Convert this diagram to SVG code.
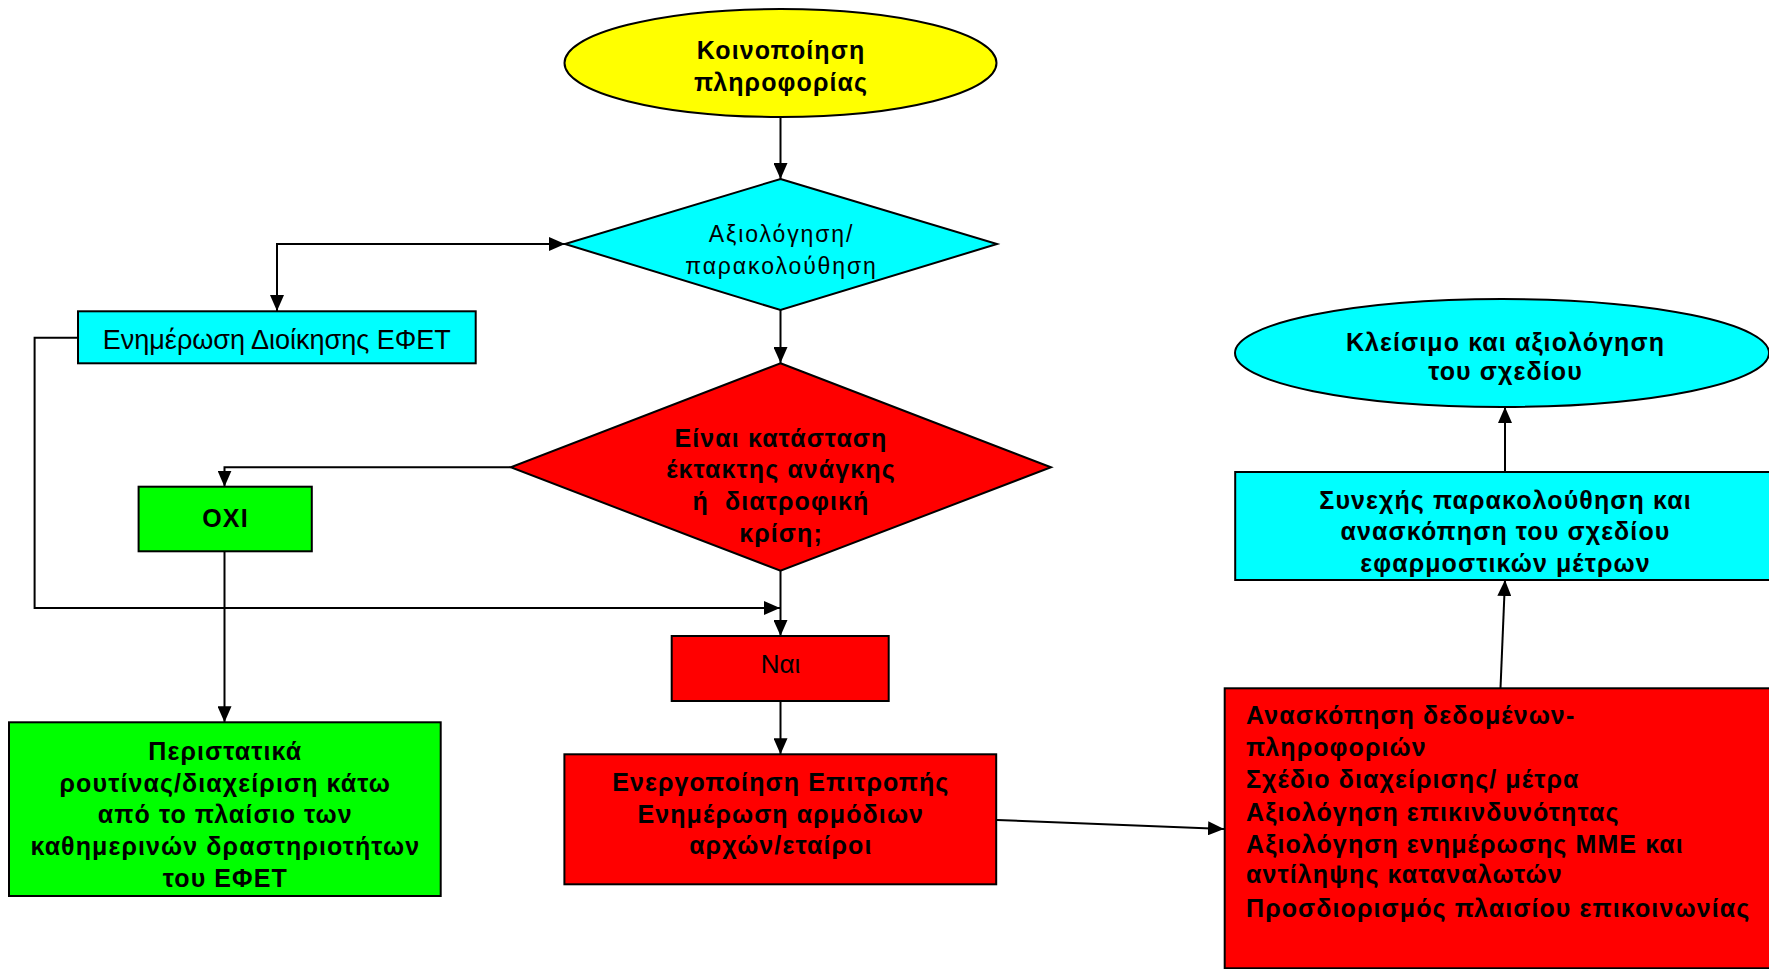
<svg xmlns="http://www.w3.org/2000/svg" width="1769" height="969" viewBox="0 0 1769 969">
<defs>
<marker id="ah" markerUnits="userSpaceOnUse" markerWidth="16" markerHeight="14" refX="16" refY="7" orient="auto-start-reverse" viewBox="0 0 16 14">
<path d="M0,0 L16,7 L0,14 z" fill="#000"/>
</marker>
<style>
.shape{stroke:#000;stroke-width:2}
.yellow{fill:#FFFF00}
.cyan{fill:#00FFFF}
.red{fill:#FF0000}
.green{fill:#00FF00}
.conn{fill:none;stroke:#000;stroke-width:2;marker-end:url(#ah)}
text{font-family:"Liberation Sans",Arial,sans-serif;fill:#000}
.b{font-weight:bold;font-size:25px;letter-spacing:1.1px}
.n{font-size:23px;letter-spacing:1.9px}
.c{text-anchor:middle}
</style>
</defs>
<rect width="1769" height="969" fill="#fff"/>
<g id="connectors">
<path class="conn" d="M780.5,117 V179"/>
<path class="conn" style="marker-start:url(#ah)" d="M565,244 H277 V311"/>
<path class="conn" d="M780.5,310 V363"/>
<path class="conn" d="M510.7,467.3 H224.5 V486.7"/>
<path class="conn" d="M224.5,551.3 V722.3"/>
<path class="conn" d="M78,337.7 H34.6 V608 H780"/>
<path class="conn" d="M780.5,570.7 V636"/>
<path class="conn" d="M780.5,701 V754.3"/>
<path class="conn" d="M997,820 L1224,829"/>
<path class="conn" d="M1500.5,688 L1505,580"/>
<path class="conn" d="M1505,472 V407"/>
</g>
<g id="node-koinopoiisi">
<ellipse class="shape yellow" cx="780.5" cy="63" rx="216" ry="54"/>
<text class="b c" x="781" y="59">Κοινοποίηση</text>
<text class="b c" x="781" y="91">πληροφορίας</text>
</g>
<g id="node-axiologisi">
<polygon class="shape cyan" points="780.5,179 997,244 780.5,310 565,244"/>
<text class="n c" x="781.5" y="242">Αξιολόγηση/</text>
<text class="n c" x="781.5" y="274">παρακολούθηση</text>
</g>
<g id="node-enimerosi-dioikisis">
<rect class="shape cyan" x="78" y="311.3" width="397.7" height="52"/>
<text class="c" style="font-size:27px" x="276.8" y="349">Ενημέρωση Διοίκησης ΕΦΕΤ</text>
</g>
<g id="node-ektakti">
<polygon class="shape red" points="780.5,363.3 1051,467.3 780.5,570.7 510.7,467.3"/>
<text class="b c" x="781" y="446.7">Είναι κατάσταση</text>
<text class="b c" x="781" y="478.3">έκτακτης ανάγκης</text>
<text class="b c" x="781" y="509.5" xml:space="preserve">ή  διατροφική</text>
<text class="b c" x="781" y="541.5">κρίση;</text>
</g>
<g id="node-oxi">
<rect class="shape green" x="138.6" y="486.7" width="173.2" height="64.6"/>
<text class="b c" x="225.5" y="527">ΟΧΙ</text>
</g>
<g id="node-nai">
<rect class="shape red" x="671.7" y="636" width="217" height="65"/>
<text class="c" style="font-size:26px" x="780.5" y="672.7">Ναι</text>
</g>
<g id="node-peristatika">
<rect class="shape green" x="9" y="722.3" width="431.7" height="173.7"/>
<text class="b c" x="225.3" y="760">Περιστατικά</text>
<text class="b c" x="225.3" y="791.7">ρουτίνας/διαχείριση κάτω</text>
<text class="b c" x="225.3" y="822.9">από το πλαίσιο των</text>
<text class="b c" x="225.3" y="855">καθημερινών δραστηριοτήτων</text>
<text class="b c" x="225.3" y="886.7">του ΕΦΕΤ</text>
</g>
<g id="node-energopoiisi">
<rect class="shape red" x="564.4" y="754.3" width="431.8" height="130"/>
<text class="b c" x="780.8" y="790.7">Ενεργοποίηση Επιτροπής</text>
<text class="b c" x="780.8" y="823.3">Ενημέρωση αρμόδιων</text>
<text class="b c" x="780.8" y="854">αρχών/εταίροι</text>
</g>
<g id="node-anaskopisi">
<rect class="shape red" x="1224.7" y="688.3" width="560" height="280"/>
<text class="b" x="1246" y="724.3">Ανασκόπηση δεδομένων-</text>
<text class="b" x="1246" y="756">πληροφοριών</text>
<text class="b" x="1246" y="788.3">Σχέδιο διαχείρισης/ μέτρα</text>
<text class="b" x="1246" y="820.7">Αξιολόγηση επικινδυνότητας</text>
<text class="b" x="1246" y="852.7">Αξιολόγηση ενημέρωσης ΜΜΕ και</text>
<text class="b" x="1246" y="883.3">αντίληψης καταναλωτών</text>
<text class="b" x="1246" y="916.7">Προσδιορισμός πλαισίου επικοινωνίας</text>
</g>
<g id="node-synexis">
<rect class="shape cyan" x="1235.2" y="472" width="560" height="108"/>
<text class="b c" x="1505.5" y="509.3">Συνεχής παρακολούθηση και</text>
<text class="b c" x="1505.5" y="540">ανασκόπηση του σχεδίου</text>
<text class="b c" x="1505.5" y="571.7">εφαρμοστικών μέτρων</text>
</g>
<g id="node-kleisimo">
<ellipse class="shape cyan" cx="1502" cy="353" rx="267" ry="54"/>
<text class="b c" x="1505.5" y="350.7">Κλείσιμο και αξιολόγηση</text>
<text class="b c" x="1505.5" y="380">του σχεδίου</text>
</g>
</svg>
